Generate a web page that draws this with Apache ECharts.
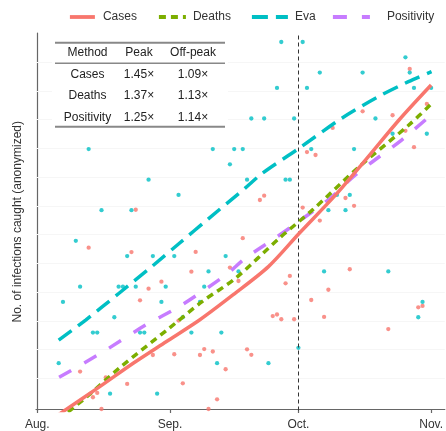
<!DOCTYPE html>
<html>
<head>
<meta charset="utf-8">
<script src="https://cdn.jsdelivr.net/npm/echarts@6/dist/echarts.min.js"></script>
<style>
html,body{margin:0;padding:0;background:#fff;}
#chart{width:446px;height:431px;}
</style>
</head>
<body>
<div id="chart"></div>
<script>
// ---- data (days since Aug 1; y = number of infections caught) ----
const monthDays = [0, 31, 61, 92];
const monthLabels = ['Aug.', 'Sep.', 'Oct.', 'Nov.'];
const cutoffDay = 61;

const evaPtDays = [5,6,9,10,12,13,14,15,17,18,19,20,21,22,23,24,25,26,27,28,29,30,32,33,34,36,38,39,40,41,42,43,44,45,46,47,48,49,50,53,54,56,57,58,59,60,61,62,63,64,66,67,68,70,72,73,74,76,79,82,83,86,87,88,89,90,91,92];
const evaPtVals = [3,7,11,8,17,5,5,13,1,6,8,8,10,13,8,5,5,15,10,1,7,8,10,14,6,5,7,8,9,17,3,5,10,16,17,9,17,15,19,19,3,21,24,15,15,19,4,24,21,17,22,9,13,14,13,14,17,22,19,9,18,23,22,21,6,7,18,21];

const casesPtDays = [10,12,13,14,15,16,21,22,23,24,26,27,29,32,33,34,36,37,38,39,40,41,42,44,45,47,48,49,50,52,53,55,56,57,58,59,60,62,63,64,65,66,67,68,69,72,73,74,76,82,83,86,87,88,89,90,91];
const casesPtVals = [2.45,10.55,0.77,1.05,0,2.06,1.64,10.26,13.03,7.11,7.87,3.53,8.33,3.58,5.78,1.68,8.98,10.27,3.53,3.92,0,3.76,0.63,2.6,9.25,8.37,11.17,3.9,3.54,13.67,13.95,6.08,6.18,5.87,8.22,8.7,5.87,13.17,16.8,7.13,16.61,12.32,6.02,7.8,18.38,13.8,9.14,13.29,19.47,5.23,19.21,18.19,22.24,17.12,6.65,6.74,19.95];

const casesLineDays = [5,14.6,22.4,30.1,37.9,45.7,54,61.2,69.7,76.7,84.5,92];
const casesLineVals = [-0.36,1.46,2.99,4.4,5.82,7.46,9.31,11.49,14.0,16.29,18.9,21.19];
const deathsLineDays = [5,11.3,19.1,30.8,38.5,46.3,56.5,64.3,75.2,86.8,92];
const deathsLineVals = [-0.69,0.74,2.66,5.28,7.02,8.55,11.16,13.02,15.85,18.57,19.94];
const evaLineDays = [5,11.3,19.1,26.9,33.2,40.1,48.5,52.6,61,71.1,79.7,86.7,92.1];
const evaLineVals = [4.51,5.82,7.57,9.35,10.84,12.47,14.43,15.42,17.02,19.01,20.43,21.41,22.06];
const posLineDays = [5.1,15.2,25.3,33.1,44,48.6,55.6,61.8,68.2,73.5,78.3,85.1,92];
const posLineVals = [2.07,3.71,5.49,6.69,8.76,9.86,11.18,12.41,13.73,15.11,16.17,17.59,19.23];

const gridVals = [2.01,3.88,5.77,7.65,9.53,11.41,13.29,15.17,17.05,18.93,20.81,22.69];

const legendNames = ['Cases', 'Deaths', 'Eva', 'Positivity'];

const tableHeader = ['Method', 'Peak', 'Off-peak'];
const tableMethods = ['Cases', 'Deaths', 'Positivity'];
const tablePeak = ['1.45\u00d7', '1.37\u00d7', '1.25\u00d7'];
const tableOffPeak = ['1.09\u00d7', '1.13\u00d7', '1.14\u00d7'];

// ---- build ----
const FONT = '"Liberation Sans", Arial, Helvetica, sans-serif';
const C_RED = '#F8766D', C_GREEN = '#7CAE00', C_TEAL = '#00BFC4', C_PURPLE = '#C77CFF';
const pairs = (xs, ys) => xs.map((x, i) => [x, ys[i]]);

const colX = [87.5, 139, 193];
const rowY = [53, 74.3, 95.7, 117.3];
const tableRows = [tableHeader].concat(tableMethods.map((m, i) => [m, tablePeak[i], tableOffPeak[i]]));
const tableGraphics = [{
  type: 'rect', silent: true, z: 10,
  shape: { x: 52, y: 41, width: 176, height: 87 }, style: { fill: '#fff' }
}];
tableRows.forEach((row, r) => {
  row.forEach((txt, c) => {
    tableGraphics.push({
      type: 'text', x: colX[c], y: rowY[r], silent: true, z: 11,
      style: { text: txt, fill: '#222', font: '12px ' + FONT, textAlign: 'center', textVerticalAlign: 'middle' }
    });
  });
});
[[42.7, 2], [63.3, 1.4], [126.7, 2]].forEach(([y, w]) => {
  tableGraphics.push({ type: 'line', silent: true, z: 11, shape: { x1: 55, y1: y, x2: 225, y2: y }, style: { stroke: '#888', lineWidth: w } });
});

// one legend component per item (icon widths differ in the reference)
const legendLayout = [
  { left: 68, w: 25, pad: 3 },
  { left: 157, w: 27, pad: 2 },
  { left: 250, w: 36, pad: 2 },
  { left: 331, w: 37, pad: 12 }
];
const legends = legendNames.map((n, i) => ({
  data: [n], left: legendLayout[i].left, top: 11, padding: 0,
  itemWidth: legendLayout[i].w, itemHeight: 12,
  itemStyle: { opacity: 0 },
  lineStyle: { width: 3.8 },
  textStyle: { fontSize: 12, color: '#333', fontFamily: FONT, padding: [0, 0, 0, legendLayout[i].pad] }
}));

const chart = echarts.init(document.getElementById('chart'), null, { renderer: 'canvas' });
chart.setOption({
  animation: false,
  backgroundColor: '#fff',
  textStyle: { fontFamily: FONT },
  grid: { left: 36, right: 0, top: 33, bottom: 20.5, containLabel: false },
  legend: legends,
  xAxis: {
    type: 'value', min: -0.3, max: 95.2,
    axisLine: { show: true, lineStyle: { color: '#666', width: 1.2 } },
    axisTick: { show: true, customValues: monthDays, length: 4, lineStyle: { color: '#666', width: 1.2 } },
    axisLabel: {
      show: true, customValues: monthDays, margin: 8, fontSize: 12, color: '#333', fontFamily: FONT,
      formatter: v => monthLabels[monthDays.indexOf(v)] || ''
    },
    splitLine: { show: false }
  },
  yAxis: {
    type: 'value', min: -0.098, max: 24.59,
    name: 'No. of infections caught (anonymized)', nameLocation: 'middle', nameGap: 12,
    nameTextStyle: { fontSize: 12, color: '#333', fontFamily: FONT },
    axisLine: { show: true, lineStyle: { color: '#666', width: 1.2 } },
    axisTick: { show: false }, axisLabel: { show: false }, splitLine: { show: false }
  },
  graphic: tableGraphics,
  series: [
    {
      name: 'gridhelper', type: 'scatter', data: [], z: 1, silent: true,
      markLine: {
        z: 1, silent: true, symbol: 'none', label: { show: false }, animation: false,
        lineStyle: { color: '#f6f6f6', width: 1, type: 'solid' },
        emphasis: { disabled: true },
        data: gridVals.map(v => ({ yAxis: v }))
      }
    },
    {
      name: 'casesPts', type: 'scatter', data: pairs(casesPtDays, casesPtVals), z: 2,
      symbolSize: 4.3, itemStyle: { color: C_RED }, silent: true
    },
    {
      name: 'evaPts', type: 'scatter', data: pairs(evaPtDays, evaPtVals), z: 2,
      symbolSize: 4.3, itemStyle: { color: C_TEAL }, silent: true,
      markLine: {
        z: 3, silent: true, symbol: 'none', label: { show: false }, animation: false,
        lineStyle: { color: '#333', width: 1, type: [4, 3] },
        data: [{ xAxis: cutoffDay }]
      }
    },
    {
      name: 'Eva', type: 'line', data: pairs(evaLineDays, evaLineVals), z: 3, smooth: 0.3,
      symbol: 'none', color: C_TEAL, lineStyle: { color: C_TEAL, width: 3.5, type: [16, 8] }
    },
    {
      name: 'Positivity', type: 'line', data: pairs(posLineDays, posLineVals), z: 3, smooth: 0.3,
      symbol: 'none', color: C_PURPLE, lineStyle: { color: C_PURPLE, width: 3.5, type: [14, 15] }
    },
    {
      name: 'Deaths', type: 'line', data: pairs(deathsLineDays, deathsLineVals), z: 4, smooth: 0.3,
      symbol: 'none', color: C_GREEN, lineStyle: { color: C_GREEN, width: 3.5, type: [7, 5] }
    },
    {
      name: 'Cases', type: 'line', data: pairs(casesLineDays, casesLineVals), z: 5, smooth: 0.3,
      symbol: 'none', color: C_RED, lineStyle: { color: C_RED, width: 3.5, type: 'solid' }
    }
  ]
});
</script>
</body>
</html>
